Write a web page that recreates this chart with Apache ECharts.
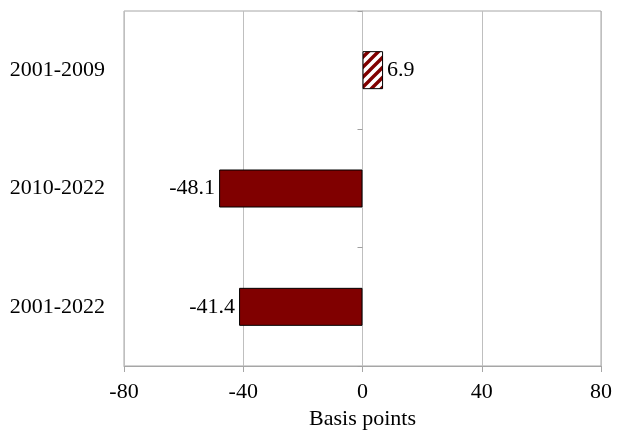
<!DOCTYPE html>
<html>
<head>
<meta charset="utf-8">
<script src="https://cdn.jsdelivr.net/npm/echarts@6/dist/echarts.min.js"></script>
<style>html,body{margin:0;padding:0;background:#fff;}#c{width:618px;height:430px;}</style>
</head>
<body>
<div id="c"></div>
<script>
const categories = ['2001-2009', '2010-2022', '2001-2022'];
const values = [6.9, -48.1, -41.4];
const hatched = [true, false, false];
const xTicks = [-80, -40, 0, 40, 80];

const FONT = '"Liberation Serif", "DejaVu Serif", serif';
const FS = 22;
const MAROON = '#800000';

function makeStripe() {
  const s = 10;
  const cv = document.createElement('canvas');
  cv.width = s; cv.height = s;
  const ctx = cv.getContext('2d');
  ctx.fillStyle = '#fff';
  ctx.fillRect(0, 0, s, s);
  ctx.strokeStyle = MAROON;
  ctx.lineWidth = 3.4;
  ctx.beginPath();
  ctx.moveTo(-2, s + 2); ctx.lineTo(s + 2, -2);
  ctx.moveTo(-2, 2); ctx.lineTo(2, -2);
  ctx.moveTo(s - 2, s + 2); ctx.lineTo(s + 2, s - 2);
  ctx.stroke();
  return cv;
}
const stripe = makeStripe();

const chart = echarts.init(document.getElementById('c'), null, {renderer: 'canvas'});
chart.setOption({
  animation: false,
  grid: {left: 124, right: 17, top: 11, bottom: 64, containLabel: false, outerBoundsMode: 'none',
         show: true, borderColor: '#a6a6a6', borderWidth: 1},
  xAxis: {
    type: 'value', min: xTicks[0], max: xTicks[xTicks.length - 1], interval: 40,
    name: 'Basis points', nameLocation: 'middle', nameGap: 41,
    nameTextStyle: {fontFamily: FONT, fontSize: FS, color: '#000'},
    axisLine: {show: true, onZero: false, lineStyle: {color: '#a6a6a6'}},
    axisTick: {show: true, length: 6, lineStyle: {color: '#a6a6a6'}},
    axisLabel: {fontFamily: FONT, fontSize: FS, color: '#000', margin: 15},
    splitLine: {show: true, lineStyle: {color: '#bfbfbf'}}
  },
  yAxis: [{
    type: 'category', data: categories, inverse: true,
    axisLine: {show: false, onZero: false},
    axisTick: {show: false},
    axisLabel: {fontFamily: FONT, fontSize: FS, color: '#000', margin: 19},
    splitLine: {show: false}
  }, {
    type: 'category', data: categories, inverse: true, position: 'left',
    axisLine: {show: true, onZero: true, lineStyle: {color: '#bfbfbf'}},
    axisTick: {show: true, length: 5, inside: false, lineStyle: {color: '#a0a0a0'}},
    axisLabel: {show: false},
    splitLine: {show: false}
  }],
  series: [{
    type: 'bar',
    yAxisIndex: 0,
    barWidth: 38,
    data: values.map((v, i) => ({
      value: v,
      itemStyle: {
        color: hatched[i] ? {image: stripe, repeat: 'repeat'} : MAROON,
        borderColor: '#000', borderWidth: 1
      },
      label: {
        show: true,
        position: v >= 0 ? 'right' : 'left',
        distance: 4,
        formatter: String(v),
        fontFamily: FONT, fontSize: FS, color: '#000'
      }
    }))
  }]
});
</script>
</body>
</html>
